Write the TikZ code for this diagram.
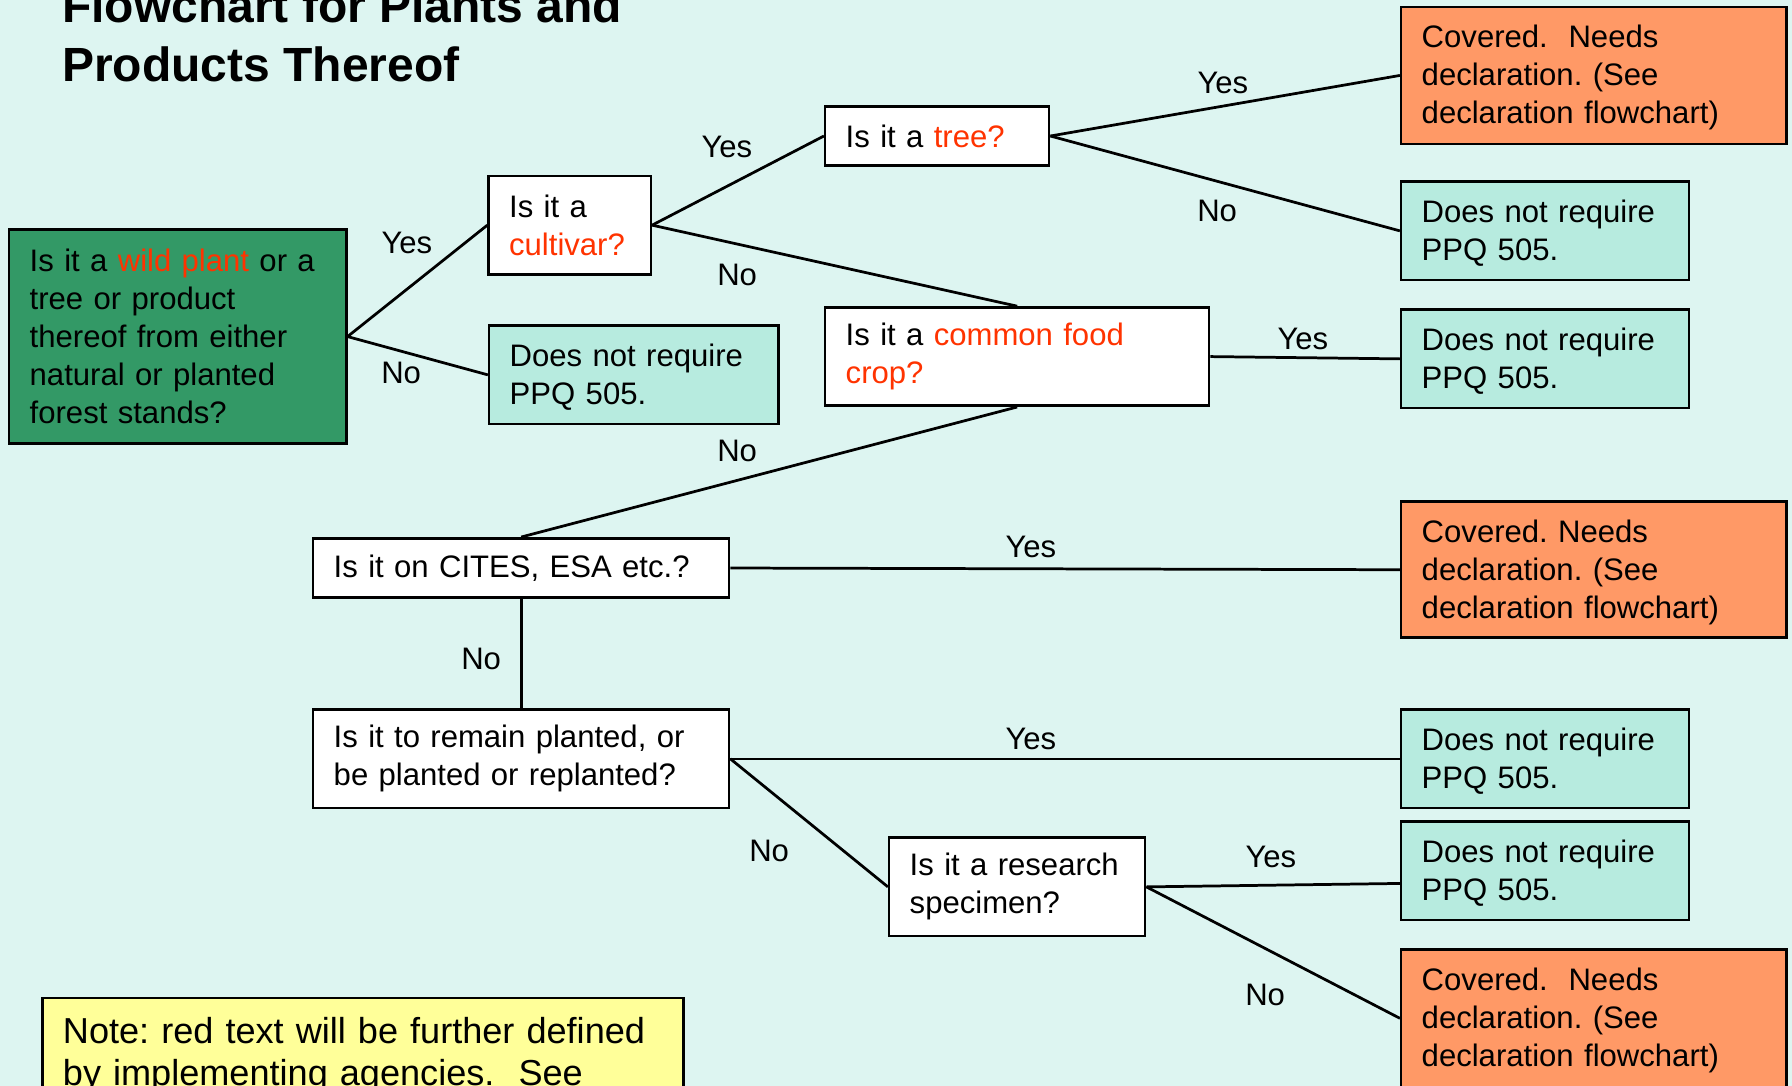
\documentclass[tikz,border=0pt]{standalone}
\usepackage{fontspec}
\setmainfont{Liberation Sans}
\definecolor{bgc}{HTML}{DDF5F1}
\definecolor{tealc}{HTML}{B7EBDF}
\definecolor{orangec}{HTML}{FF9966}
\definecolor{greenc}{HTML}{339966}
\definecolor{redtxt}{HTML}{FF3300}
\definecolor{notec}{HTML}{FFFF99}
\newcommand{\rt}[1]{\textcolor{redtxt}{#1}}
\frenchspacing
\hyphenpenalty=10000
\exhyphenpenalty=10000
\begin{document}
\begin{tikzpicture}[x=0.5pt,y=-0.5pt,
  box/.style={draw=black, line width=1.1pt, rectangle, inner xsep=9pt, inner ysep=0pt,
    align=left, font=\fontsize{13.6}{16.6}\selectfont, anchor=center},
  sz/.style n args={3}{minimum width=#1pt, minimum height=#2pt, text width=#3pt},
  qbox/.style={box, fill=white},
  tbox/.style={box, fill=tealc, sz={126}{43}{108}, execute at begin node={\rule{0pt}{11.9pt}}},
  obox/.style={box, fill=orangec, sz={168.5}{60}{150.5}, execute at begin node={\rule{0pt}{11.9pt}}},
  lbl/.style={font=\fontsize{13.6}{16.6}\selectfont, inner sep=0pt},
  conn/.style={draw=black, line width=1.2pt}]
\fill[bgc] (0,0) rectangle (1568,950);
\useasboundingbox (0,0) rectangle (1568,950);

% title
\node[anchor=base west, inner sep=0pt, font=\fontsize{21}{25.5}\selectfont\bfseries] (title1) at (54,20) {Flowchart for Plants and};
\node[anchor=base west, inner sep=0pt, font=\fontsize{21}{25.5}\selectfont\bfseries] (title2) at (54,71) {Products Thereof};

% question nodes
\node[box, fill=greenc, sz={147.5}{93.5}{129.5}] (green) at (155.5,294.5)
  {Is it a \rt{wild plant} or a\\ tree or product\\ thereof from either\\ natural or planted\\ forest stands?};
\node[qbox, sz={70.5}{43}{53}] (cult) at (498.5,197) {Is it a\\ \rt{cultivar?}};
\node[qbox, sz={98}{26}{80}] (tree) at (820,119) {Is it a \rt{tree?}};
\node[tbox, sz={126.5}{43}{108.5}] (nr0) at (554.5,328) {Does not require\\ PPQ 505.};
\node[qbox, sz={168}{43}{150}] (food) at (890,312) {Is it a \rt{common food}\\ \rt{crop?}};
\node[qbox, sz={182}{26}{164}] (cites) at (456,497) {Is it on CITES, ESA etc.?};
\node[qbox, sz={182}{43}{164}] (remain) at (456,664) {Is it to remain planted, or\\ be planted or replanted?};
\node[qbox, sz={112}{43}{94}] (research) at (890,776) {Is it a research\\ specimen?};

% outcome nodes
\node[obox] (or1) at (1394.5,66) {Covered.\ \ Needs\\ declaration. (See\\ declaration flowchart)};
\node[tbox] (t1) at (1352,202) {Does not require\\ PPQ 505.};
\node[tbox] (t2) at (1352,314) {Does not require\\ PPQ 505.};
\node[obox, minimum height=59.5pt] (or2) at (1394.5,498.5) {Covered. Needs\\ declaration. (See\\ declaration flowchart)};
\node[tbox] (t3) at (1352,664) {Does not require\\ PPQ 505.};
\node[tbox] (t4) at (1352,762) {Does not require\\ PPQ 505.};
\node[obox] (or3) at (1394.5,891) {Covered.\ \ Needs\\ declaration. (See\\ declaration flowchart)};

% note
\node[draw=black, line width=1.1pt, fill=notec, anchor=north west, inner xsep=9pt, inner ysep=8.5pt,
  text width=262.5pt, align=left, font=\fontsize{15.8}{18.3}\selectfont] (note) at (36,872)
  {Note: red text will be further defined\\ by implementing agencies.\ \ See};

% connectors
\draw[conn] (green.east) -- (cult.west);
\draw[conn] (green.east) -- (nr0.west);
\draw[conn] (cult.east) -- (tree.west);
\draw[conn] (cult.east) -- (food.north);
\draw[conn] (tree.east) -- (or1.west);
\draw[conn] (tree.east) -- (t1.west);
\draw[conn] (food.east) -- (t2.west);
\draw[conn] (food.south) -- (cites.north);
\draw[conn] (cites.east) -- (or2.west);
\draw[conn] (cites.south) -- (remain.north);
\draw[conn] (remain.east) -- (t3.west);
\draw[conn] (remain.east) -- (research.west);
\draw[conn] (research.east) -- ([yshift=-5.5pt]t4.west);
\draw[conn] (research.east) -- (or3.west);

% labels
\node[lbl] (l1) at (356,213) {Yes};
\node[lbl] (l2) at (351,326) {No};
\node[lbl] (l3) at (636,129) {Yes};
\node[lbl] (l4) at (645,241) {No};
\node[lbl] (l5) at (1070,73) {Yes};
\node[lbl] (l6) at (1065,185) {No};
\node[lbl] (l7) at (1140,297) {Yes};
\node[lbl] (l8) at (645,395) {No};
\node[lbl] (l9) at (902,479) {Yes};
\node[lbl] (l10) at (421,577) {No};
\node[lbl] (l11) at (902,647) {Yes};
\node[lbl] (l12) at (673,745) {No};
\node[lbl] (l13) at (1112,750) {Yes};
\node[lbl] (l14) at (1107,871) {No};
\end{tikzpicture}
\end{document}
